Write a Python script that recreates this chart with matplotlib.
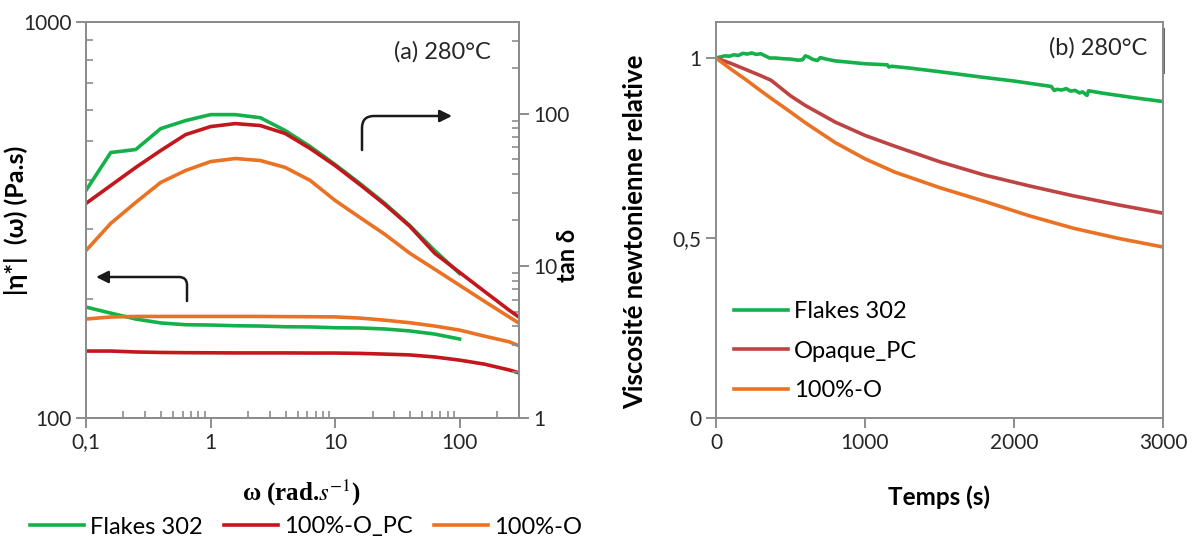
import matplotlib
matplotlib.use('Agg')
import matplotlib.pyplot as plt
from matplotlib.ticker import LogLocator, NullFormatter

# ---- data (a): frequency sweep at 280 C
omega = [0.1, 0.158, 0.251, 0.398, 0.631, 1.0, 1.58, 2.51, 3.98, 6.31,
         10.0, 15.8, 25.1, 39.8, 63.1, 100.0, 158.0, 251.0, 300.0]
omega_flakes = omega[:16]

tan_flakes = [31.3, 55.5, 58.1, 79.7, 90.0, 98.5, 98.5, 94.0, 77.4, 60.8,
              46.3, 34.8, 25.7, 18.4, 12.6, 8.9]
tan_pc = [25.7, 33.7, 44.3, 57.2, 72.8, 82.2, 86.0, 83.5, 74.0, 59.0,
          45.6, 34.2, 25.3, 18.2, 12.1, 9.06, 6.8, 5.1, 4.6]
tan_o = [12.6, 19.0, 26.1, 35.3, 42.3, 48.4, 50.7, 49.2, 44.3, 36.4,
         26.9, 20.8, 16.1, 12.1, 9.5, 7.45, 5.85, 4.6, 4.2]

eta_flakes = [190.6, 184.0, 177.8, 173.8, 172.0, 171.7, 171.0, 170.7, 170.0,
              169.8, 169.0, 168.8, 167.8, 165.9, 162.9, 158.3]
eta_pc = [147.6, 147.6, 146.8, 146.4, 146.2, 146.1, 146.0, 146.0, 146.0,
          145.9, 145.9, 145.6, 145.0, 144.3, 142.6, 140.0, 136.8, 132.2, 130.0]
eta_o = [177.8, 179.9, 180.5, 180.5, 180.5, 180.5, 180.5, 180.5, 180.3,
         180.2, 180.0, 178.8, 176.6, 174.0, 170.7, 166.7, 161.0, 155.7, 152.2]

# ---- data (b): time sweep, relative newtonian viscosity
t_flakes = [0, 30, 60, 90, 120, 150, 180, 210, 240, 270, 300, 330, 360, 400,
            450, 500, 550, 580, 600, 620, 650, 680, 700, 730, 750, 800, 900,
            1000, 1150, 1160, 1180, 1300, 1500, 1800, 2000, 2250, 2270, 2290,
            2320, 2350, 2380, 2410, 2440, 2460, 2490, 2500, 2600, 2800, 3000]
v_flakes = [1.0, 1.003, 1.006, 1.005, 1.009, 1.007, 1.013, 1.011, 1.014,
            1.010, 1.012, 1.006, 1.0, 1.0, 0.998, 0.997, 0.994, 0.995, 1.006,
            1.003, 0.996, 0.993, 1.001, 0.998, 0.996, 0.992, 0.988, 0.984,
            0.981, 0.975, 0.977, 0.972, 0.962, 0.946, 0.936, 0.921, 0.910,
            0.913, 0.911, 0.915, 0.908, 0.910, 0.903, 0.906, 0.896, 0.909,
            0.902, 0.890, 0.879]
t_curve = [0, 100, 200, 300, 370, 500, 600, 800, 1000, 1200, 1500, 1800,
           2100, 2400, 2700, 3000]
v_pc = [1.0, 0.985, 0.968, 0.951, 0.938, 0.895, 0.868, 0.822, 0.785, 0.755,
        0.712, 0.675, 0.645, 0.617, 0.592, 0.569]
v_o = [1.0, 0.969, 0.94, 0.909, 0.888, 0.85, 0.82, 0.765, 0.72, 0.683,
       0.64, 0.602, 0.562, 0.527, 0.499, 0.475]

GREEN = '#14B14B'
RED = '#C3161D'
RED2 = '#BE4444'
ORANGE = '#EA7224'
GREY = '#8C8C8C'
FONT = ['Lato', 'DejaVu Sans']

plt.rcParams['font.family'] = FONT
plt.rcParams['mathtext.fontset'] = 'stix'

fig = plt.figure(figsize=(11.97, 5.41), dpi=100)
ax1 = fig.add_axes([86/1197, 123/541, 433/1197, 396/541])
ax1b = ax1.twinx()
ax2 = fig.add_axes([716/1197, 123/541, 447/1197, 396/541])

def style_axes(ax):
  for sp in ax.spines.values():
    sp.set_color(GREY)
    sp.set_linewidth(1.4)
  ax.tick_params(which='major', direction='out', length=7, width=1.4,
                 color=GREY, labelsize=15, labelcolor='#262626')
  ax.tick_params(which='minor', direction='in', length=5, width=1.2,
                 color=GREY)

# ---- panel (a)
lw = 2.6
ax1b.plot(omega_flakes, tan_flakes, color=GREEN, lw=lw)
ax1b.plot(omega, tan_pc, color=RED, lw=lw)
ax1b.plot(omega, tan_o, color=ORANGE, lw=lw)
ax1.plot(omega_flakes, eta_flakes, color=GREEN, lw=lw, label='Flakes 302')
ax1.plot(omega, eta_pc, color=RED, lw=lw, label='100%-O_PC')
ax1.plot(omega, eta_o, color=ORANGE, lw=lw, label='100%-O')

ax1.set_xscale('log')
ax1.set_yscale('log')
ax1b.set_yscale('log')
ax1.set_xlim(0.1, 300)
ax1.set_ylim(100, 1000)
ax1b.set_ylim(1, 400)
ax1.set_xticks([0.1, 1, 10, 100], ['0,1', '1', '10', '100'])
ax1.set_yticks([100, 1000], ['100', '1000'])
ax1b.set_yticks([1, 10, 100], ['1', '10', '100'])
for a in (ax1.xaxis, ax1.yaxis, ax1b.yaxis):
  a.set_minor_locator(LogLocator(base=10, subs=range(2, 10)))
  a.set_minor_formatter(NullFormatter())
style_axes(ax1)
style_axes(ax1b)

ax1.set_ylabel('|η*|  (ω) (Pa.s)', fontsize=18, fontweight='bold',
               family=FONT)
ax1.yaxis.set_label_coords(-0.135, 0.5)
ax1b.set_ylabel('tan δ', fontsize=17, fontweight='bold', family=FONT)
ax1b.yaxis.set_label_coords(1.085, 0.41)
ax1.set_xlabel(r'ω (rad.$s^{-1}$)', fontsize=18, fontweight='bold',
               family=['Liberation Serif', 'DejaVu Serif'])
ax1.xaxis.set_label_coords(0.497, -0.15)
ax1.text(0.935, 0.925, '(a) 280°C', transform=ax1.transAxes, ha='right',
         va='center', fontsize=17, color='#262626')

arrow = dict(arrowstyle='-|>', color='#1a1a1a', lw=1.8, shrinkA=0, shrinkB=0,
             mutation_scale=18)
ax1.annotate('', xy=(452, 541-116), xytext=(362, 541-150),
             xycoords='figure pixels', textcoords='figure pixels',
             arrowprops=dict(arrow, connectionstyle='angle,angleA=90,angleB=0,rad=12'))
ax1.annotate('', xy=(96, 541-277), xytext=(187, 541-301),
             xycoords='figure pixels', textcoords='figure pixels',
             arrowprops=dict(arrow, connectionstyle='angle,angleA=90,angleB=0,rad=8'))

fig.legend(*ax1.get_legend_handles_labels(), loc='center',
           bbox_to_anchor=(306/1197, 1 - 527/541), ncol=3, frameon=False,
           fontsize=17, handlelength=2.3, handletextpad=0.25,
           columnspacing=0.9)

# ---- panel (b)
ax2.plot(t_flakes, v_flakes, color=GREEN, lw=lw, label='Flakes 302')
ax2.plot(t_curve, v_pc, color=RED2, lw=lw, label='Opaque_PC')
ax2.plot(t_curve, v_o, color=ORANGE, lw=lw, label='100%-O')
ax2.set_xlim(0, 3000)
ax2.set_ylim(0, 1.1)
ax2.set_xticks([0, 1000, 2000, 3000], ['0', '1000', '2000', '3000'])
ax2.set_yticks([0, 0.5, 1], ['0', '0,5', '1'])
style_axes(ax2)
ax2.plot([1, 1], [0.875, 0.982], transform=ax2.transAxes, color='#6a6a6a',
         lw=2.2, clip_on=False)
ax2.set_ylabel('Viscosité newtonienne relative', fontsize=18.5,
               fontweight='bold')
ax2.yaxis.set_label_coords(-0.155, 0.47)
ax2.set_xlabel('Temps (s)', fontsize=17.5, fontweight='bold')
ax2.xaxis.set_label_coords(0.5, -0.17)
ax2.text(0.964, 0.934, '(b) 280°C', transform=ax2.transAxes, ha='right',
         va='center', fontsize=17, color='#262626')
ax2.legend(loc='upper left', bbox_to_anchor=(0.04, 0.295), frameon=False,
           fontsize=17, handlelength=2.3, handletextpad=0.25,
           labelspacing=0.78, borderaxespad=0, borderpad=0)

fig.savefig('out.png', dpi=100)
